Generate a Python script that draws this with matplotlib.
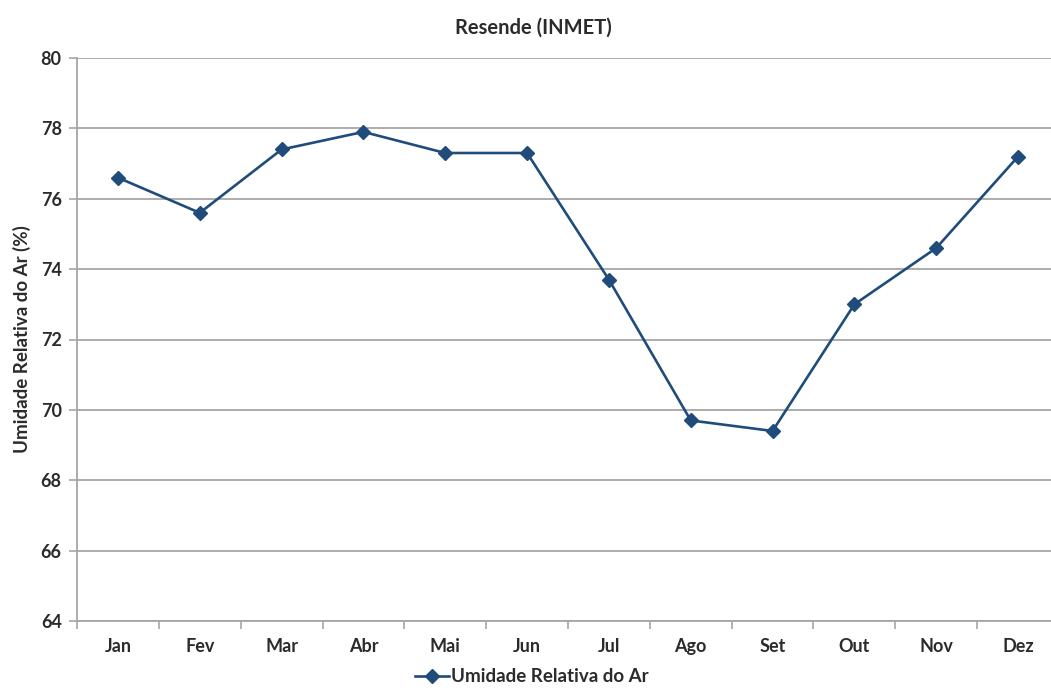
import matplotlib
matplotlib.use("Agg")
import matplotlib.pyplot as plt
from matplotlib.lines import Line2D

months = ["Jan", "Fev", "Mar", "Abr", "Mai", "Jun", "Jul", "Ago", "Set", "Out", "Nov", "Dez"]
humidity = [76.6, 75.6, 77.4, 77.9, 77.3, 77.3, 73.7, 69.7, 69.4, 73.0, 74.6, 77.2]
y_ticks = [64, 66, 68, 70, 72, 74, 76, 78, 80]

plt.rcParams["font.family"] = ["Lato", "DejaVu Sans"]
plt.rcParams["font.weight"] = "bold"

W, H = 1051, 691
fig = plt.figure(figsize=(W / 100, H / 100), dpi=100)
ax = fig.add_axes([77 / W, (H - 621) / H, (1059 - 77) / W, (621 - 58) / H])

line_color = "#1F4C7A"
grid_color = "#A6A6A6"
text_color = "#2B2B2B"

x = list(range(len(months)))
ax.plot(x, humidity, color=line_color, lw=1.9, marker="D", ms=7.5,
        markerfacecolor=line_color, markeredgecolor=line_color, zorder=3)

ax.set_xlim(-0.5, len(months) - 0.5)
ax.set_ylim(64, 80)
ax.set_yticks(y_ticks)
ax.set_yticklabels([str(v) for v in y_ticks], fontsize=13, fontweight="bold", color=text_color)
ax.set_xticks(x)
ax.set_xticklabels(months, fontsize=13, fontweight="bold", color=text_color)
ax.set_xticks([i - 0.5 for i in range(len(months) + 1)], minor=True)

ax.grid(axis="y", color=grid_color, lw=1.3)
ax.set_axisbelow(True)
for side in ["top", "right"]:
    ax.spines[side].set_visible(False)
for side in ["left", "bottom"]:
    ax.spines[side].set_color(grid_color)
    ax.spines[side].set_linewidth(1.3)

ax.tick_params(axis="x", which="major", length=0, pad=12)
ax.tick_params(axis="x", which="minor", length=6, color=grid_color, width=1.2, direction="out")
ax.tick_params(axis="y", length=6, color=grid_color, width=1.2, pad=5)

ax.set_ylabel("Umidade Relativa do Ar (%)", fontsize=13.5, fontweight="bold",
              color=text_color, labelpad=7)
fig.text(533 / W, 1 - 28 / H, "Resende (INMET)", ha="center", va="center",
         fontsize=14.5, fontweight="bold", color=text_color)

handle = Line2D([], [], color=line_color, lw=1.9, marker="D", ms=7,
                markerfacecolor=line_color, markeredgecolor=line_color)
fig.legend([handle], ["Umidade Relativa do Ar"], loc="center",
           bbox_to_anchor=(532 / W, 1 - 677 / H), frameon=False,
           prop={"size": 13.5, "weight": "bold"}, handlelength=1.8,
           handletextpad=0.1, labelcolor=text_color)

fig.savefig("out.png", dpi=100)
